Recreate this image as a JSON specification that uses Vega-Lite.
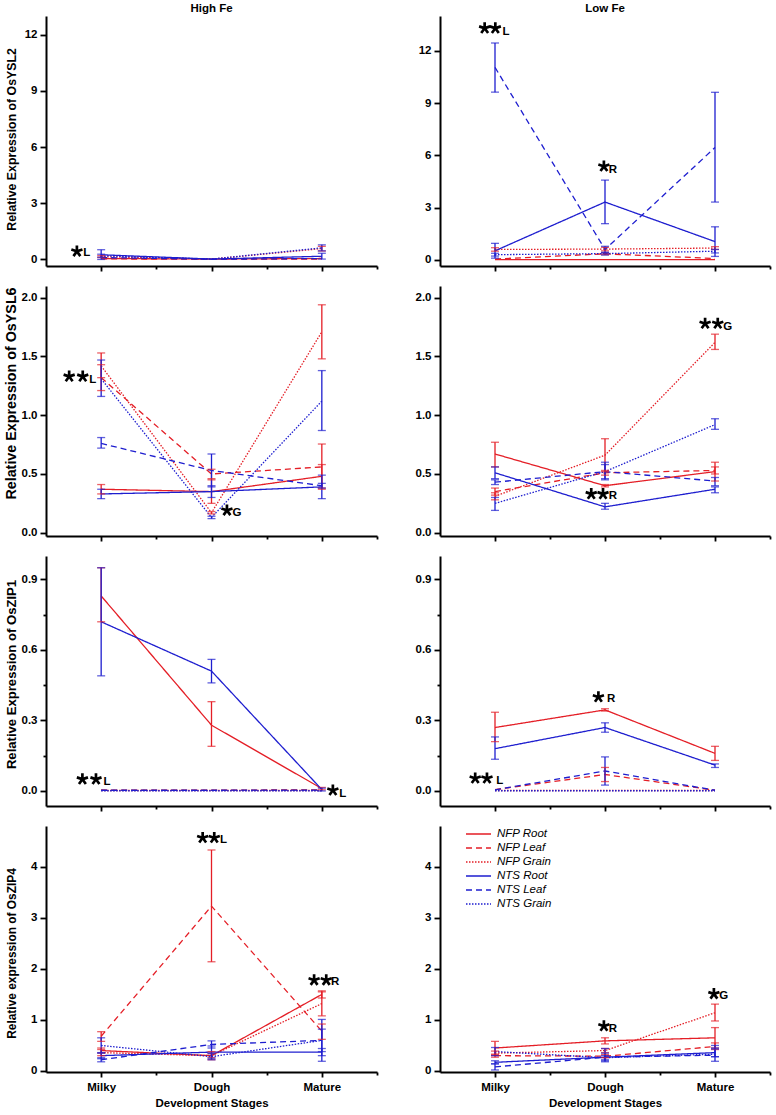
{
"$schema":"https://vega.github.io/schema/vega-lite/v6.json",
"padding":{"left":3,"top":2,"right":4,"bottom":4},
"datasets":{
"pts":[
{"p":"YSL2H","s":"NFP Root","stage":1,"v":0.05,"lo":0.05,"hi":0.05},
{"p":"YSL2H","s":"NFP Root","stage":2,"v":0.02,"lo":0.02,"hi":0.02},
{"p":"YSL2H","s":"NFP Root","stage":3,"v":0.05,"lo":0.05,"hi":0.05},
{"p":"YSL2H","s":"NFP Leaf","stage":1,"v":0.03,"lo":0.03,"hi":0.03},
{"p":"YSL2H","s":"NFP Leaf","stage":2,"v":0.01,"lo":0.01,"hi":0.01},
{"p":"YSL2H","s":"NFP Leaf","stage":3,"v":0.02,"lo":0.02,"hi":0.02},
{"p":"YSL2H","s":"NFP Grain","stage":1,"v":0.15,"lo":0.1,"hi":0.2},
{"p":"YSL2H","s":"NFP Grain","stage":2,"v":0.02,"lo":0.02,"hi":0.02},
{"p":"YSL2H","s":"NFP Grain","stage":3,"v":0.58,"lo":0.45,"hi":0.7},
{"p":"YSL2H","s":"NTS Root","stage":1,"v":0.25,"lo":0.0,"hi":0.52},
{"p":"YSL2H","s":"NTS Root","stage":2,"v":0.02,"lo":0.02,"hi":0.02},
{"p":"YSL2H","s":"NTS Root","stage":3,"v":0.17,"lo":0.02,"hi":0.33},
{"p":"YSL2H","s":"NTS Leaf","stage":1,"v":0.1,"lo":0.1,"hi":0.1},
{"p":"YSL2H","s":"NTS Leaf","stage":2,"v":0.01,"lo":0.01,"hi":0.01},
{"p":"YSL2H","s":"NTS Leaf","stage":3,"v":0.05,"lo":0.05,"hi":0.05},
{"p":"YSL2H","s":"NTS Grain","stage":1,"v":0.2,"lo":0.12,"hi":0.28},
{"p":"YSL2H","s":"NTS Grain","stage":2,"v":0.02,"lo":0.02,"hi":0.02},
{"p":"YSL2H","s":"NTS Grain","stage":3,"v":0.62,"lo":0.46,"hi":0.78},

{"p":"YSL2L","s":"NFP Root","stage":1,"v":0.02,"lo":0.02,"hi":0.02},
{"p":"YSL2L","s":"NFP Root","stage":2,"v":0.02,"lo":0.02,"hi":0.02},
{"p":"YSL2L","s":"NFP Root","stage":3,"v":0.02,"lo":0.02,"hi":0.02},
{"p":"YSL2L","s":"NFP Leaf","stage":1,"v":0.05,"lo":0.05,"hi":0.05},
{"p":"YSL2L","s":"NFP Leaf","stage":2,"v":0.35,"lo":0.3,"hi":0.4},
{"p":"YSL2L","s":"NFP Leaf","stage":3,"v":0.08,"lo":0.08,"hi":0.08},
{"p":"YSL2L","s":"NFP Grain","stage":1,"v":0.6,"lo":0.5,"hi":0.7},
{"p":"YSL2L","s":"NFP Grain","stage":2,"v":0.62,"lo":0.52,"hi":0.72},
{"p":"YSL2L","s":"NFP Grain","stage":3,"v":0.68,"lo":0.6,"hi":0.76},
{"p":"YSL2L","s":"NTS Root","stage":1,"v":0.52,"lo":0.1,"hi":0.95},
{"p":"YSL2L","s":"NTS Root","stage":2,"v":3.32,"lo":2.08,"hi":4.58},
{"p":"YSL2L","s":"NTS Root","stage":3,"v":1.05,"lo":0.2,"hi":1.9},
{"p":"YSL2L","s":"NTS Leaf","stage":1,"v":11.05,"lo":9.63,"hi":12.45},
{"p":"YSL2L","s":"NTS Leaf","stage":2,"v":0.6,"lo":0.4,"hi":0.78},
{"p":"YSL2L","s":"NTS Leaf","stage":3,"v":6.45,"lo":3.32,"hi":9.62},
{"p":"YSL2L","s":"NTS Grain","stage":1,"v":0.3,"lo":0.22,"hi":0.38},
{"p":"YSL2L","s":"NTS Grain","stage":2,"v":0.36,"lo":0.28,"hi":0.44},
{"p":"YSL2L","s":"NTS Grain","stage":3,"v":0.5,"lo":0.4,"hi":0.6},

{"p":"YSL6H","s":"NFP Root","stage":1,"v":0.37,"lo":0.33,"hi":0.41},
{"p":"YSL6H","s":"NFP Root","stage":2,"v":0.35,"lo":0.25,"hi":0.45},
{"p":"YSL6H","s":"NFP Root","stage":3,"v":0.48,"lo":0.38,"hi":0.58},
{"p":"YSL6H","s":"NFP Leaf","stage":1,"v":1.32,"lo":1.21,"hi":1.43},
{"p":"YSL6H","s":"NFP Leaf","stage":2,"v":0.5,"lo":0.46,"hi":0.54},
{"p":"YSL6H","s":"NFP Leaf","stage":3,"v":0.56,"lo":0.37,"hi":0.755},
{"p":"YSL6H","s":"NFP Grain","stage":1,"v":1.42,"lo":1.32,"hi":1.53},
{"p":"YSL6H","s":"NFP Grain","stage":2,"v":0.17,"lo":0.16,"hi":0.18},
{"p":"YSL6H","s":"NFP Grain","stage":3,"v":1.71,"lo":1.48,"hi":1.94},
{"p":"YSL6H","s":"NTS Root","stage":1,"v":0.33,"lo":0.29,"hi":0.37},
{"p":"YSL6H","s":"NTS Root","stage":2,"v":0.35,"lo":0.3,"hi":0.4},
{"p":"YSL6H","s":"NTS Root","stage":3,"v":0.39,"lo":0.29,"hi":0.49},
{"p":"YSL6H","s":"NTS Leaf","stage":1,"v":0.76,"lo":0.72,"hi":0.81},
{"p":"YSL6H","s":"NTS Leaf","stage":2,"v":0.53,"lo":0.39,"hi":0.67},
{"p":"YSL6H","s":"NTS Leaf","stage":3,"v":0.4,"lo":0.38,"hi":0.42},
{"p":"YSL6H","s":"NTS Grain","stage":1,"v":1.31,"lo":1.16,"hi":1.47},
{"p":"YSL6H","s":"NTS Grain","stage":2,"v":0.13,"lo":0.12,"hi":0.14},
{"p":"YSL6H","s":"NTS Grain","stage":3,"v":1.12,"lo":0.87,"hi":1.38},

{"p":"YSL6L","s":"NFP Root","stage":1,"v":0.67,"lo":0.56,"hi":0.77},
{"p":"YSL6L","s":"NFP Root","stage":2,"v":0.4,"lo":0.39,"hi":0.41},
{"p":"YSL6L","s":"NFP Root","stage":3,"v":0.52,"lo":0.44,"hi":0.6},
{"p":"YSL6L","s":"NFP Leaf","stage":1,"v":0.35,"lo":0.32,"hi":0.38},
{"p":"YSL6L","s":"NFP Leaf","stage":2,"v":0.51,"lo":0.49,"hi":0.53},
{"p":"YSL6L","s":"NFP Leaf","stage":3,"v":0.53,"lo":0.5,"hi":0.56},
{"p":"YSL6L","s":"NFP Grain","stage":1,"v":0.31,"lo":0.28,"hi":0.34},
{"p":"YSL6L","s":"NFP Grain","stage":2,"v":0.66,"lo":0.52,"hi":0.8},
{"p":"YSL6L","s":"NFP Grain","stage":3,"v":1.62,"lo":1.56,"hi":1.69},
{"p":"YSL6L","s":"NTS Root","stage":1,"v":0.51,"lo":0.46,"hi":0.56},
{"p":"YSL6L","s":"NTS Root","stage":2,"v":0.22,"lo":0.2,"hi":0.25},
{"p":"YSL6L","s":"NTS Root","stage":3,"v":0.37,"lo":0.34,"hi":0.39},
{"p":"YSL6L","s":"NTS Leaf","stage":1,"v":0.43,"lo":0.41,"hi":0.45},
{"p":"YSL6L","s":"NTS Leaf","stage":2,"v":0.52,"lo":0.46,"hi":0.58},
{"p":"YSL6L","s":"NTS Leaf","stage":3,"v":0.44,"lo":0.4,"hi":0.47},
{"p":"YSL6L","s":"NTS Grain","stage":1,"v":0.25,"lo":0.19,"hi":0.3},
{"p":"YSL6L","s":"NTS Grain","stage":2,"v":0.52,"lo":0.45,"hi":0.6},
{"p":"YSL6L","s":"NTS Grain","stage":3,"v":0.92,"lo":0.88,"hi":0.97},

{"p":"ZIP1H","s":"NFP Root","stage":1,"v":0.83,"lo":0.72,"hi":0.95},
{"p":"ZIP1H","s":"NFP Root","stage":2,"v":0.28,"lo":0.19,"hi":0.38},
{"p":"ZIP1H","s":"NFP Root","stage":3,"v":0.01,"lo":0.005,"hi":0.015},
{"p":"ZIP1H","s":"NFP Leaf","stage":1,"v":0.004,"lo":0.004,"hi":0.004},
{"p":"ZIP1H","s":"NFP Leaf","stage":2,"v":0.003,"lo":0.003,"hi":0.003},
{"p":"ZIP1H","s":"NFP Leaf","stage":3,"v":0.005,"lo":0.005,"hi":0.005},
{"p":"ZIP1H","s":"NFP Grain","stage":1,"v":0.002,"lo":0.002,"hi":0.002},
{"p":"ZIP1H","s":"NFP Grain","stage":2,"v":0.002,"lo":0.002,"hi":0.002},
{"p":"ZIP1H","s":"NFP Grain","stage":3,"v":0.002,"lo":0.002,"hi":0.002},
{"p":"ZIP1H","s":"NTS Root","stage":1,"v":0.72,"lo":0.49,"hi":0.95},
{"p":"ZIP1H","s":"NTS Root","stage":2,"v":0.51,"lo":0.46,"hi":0.56},
{"p":"ZIP1H","s":"NTS Root","stage":3,"v":0.006,"lo":0.0,"hi":0.012},
{"p":"ZIP1H","s":"NTS Leaf","stage":1,"v":0.003,"lo":0.003,"hi":0.003},
{"p":"ZIP1H","s":"NTS Leaf","stage":2,"v":0.003,"lo":0.003,"hi":0.003},
{"p":"ZIP1H","s":"NTS Leaf","stage":3,"v":0.004,"lo":0.004,"hi":0.004},
{"p":"ZIP1H","s":"NTS Grain","stage":1,"v":0.001,"lo":0.001,"hi":0.001},
{"p":"ZIP1H","s":"NTS Grain","stage":2,"v":0.001,"lo":0.001,"hi":0.001},
{"p":"ZIP1H","s":"NTS Grain","stage":3,"v":0.001,"lo":0.001,"hi":0.001},

{"p":"ZIP1L","s":"NFP Root","stage":1,"v":0.27,"lo":0.21,"hi":0.335},
{"p":"ZIP1L","s":"NFP Root","stage":2,"v":0.345,"lo":0.34,"hi":0.35},
{"p":"ZIP1L","s":"NFP Root","stage":3,"v":0.16,"lo":0.13,"hi":0.19},
{"p":"ZIP1L","s":"NFP Leaf","stage":1,"v":0.006,"lo":0.006,"hi":0.006},
{"p":"ZIP1L","s":"NFP Leaf","stage":2,"v":0.07,"lo":0.04,"hi":0.1},
{"p":"ZIP1L","s":"NFP Leaf","stage":3,"v":0.003,"lo":0.003,"hi":0.003},
{"p":"ZIP1L","s":"NFP Grain","stage":1,"v":0.002,"lo":0.002,"hi":0.002},
{"p":"ZIP1L","s":"NFP Grain","stage":2,"v":0.002,"lo":0.002,"hi":0.002},
{"p":"ZIP1L","s":"NFP Grain","stage":3,"v":0.002,"lo":0.002,"hi":0.002},
{"p":"ZIP1L","s":"NTS Root","stage":1,"v":0.18,"lo":0.135,"hi":0.23},
{"p":"ZIP1L","s":"NTS Root","stage":2,"v":0.27,"lo":0.25,"hi":0.29},
{"p":"ZIP1L","s":"NTS Root","stage":3,"v":0.11,"lo":0.1,"hi":0.115},
{"p":"ZIP1L","s":"NTS Leaf","stage":1,"v":0.005,"lo":0.005,"hi":0.005},
{"p":"ZIP1L","s":"NTS Leaf","stage":2,"v":0.085,"lo":0.025,"hi":0.145},
{"p":"ZIP1L","s":"NTS Leaf","stage":3,"v":0.003,"lo":0.003,"hi":0.003},
{"p":"ZIP1L","s":"NTS Grain","stage":1,"v":0.001,"lo":0.001,"hi":0.001},
{"p":"ZIP1L","s":"NTS Grain","stage":2,"v":0.001,"lo":0.001,"hi":0.001},
{"p":"ZIP1L","s":"NTS Grain","stage":3,"v":0.001,"lo":0.001,"hi":0.001},

{"p":"ZIP4H","s":"NFP Root","stage":1,"v":0.4,"lo":0.35,"hi":0.45},
{"p":"ZIP4H","s":"NFP Root","stage":2,"v":0.3,"lo":0.22,"hi":0.38},
{"p":"ZIP4H","s":"NFP Root","stage":3,"v":1.5,"lo":1.43,"hi":1.57},
{"p":"ZIP4H","s":"NFP Leaf","stage":1,"v":0.68,"lo":0.58,"hi":0.77},
{"p":"ZIP4H","s":"NFP Leaf","stage":2,"v":3.23,"lo":2.14,"hi":4.33},
{"p":"ZIP4H","s":"NFP Leaf","stage":3,"v":0.78,"lo":0.62,"hi":0.92},
{"p":"ZIP4H","s":"NFP Grain","stage":1,"v":0.36,"lo":0.3,"hi":0.42},
{"p":"ZIP4H","s":"NFP Grain","stage":2,"v":0.3,"lo":0.26,"hi":0.34},
{"p":"ZIP4H","s":"NFP Grain","stage":3,"v":1.32,"lo":1.08,"hi":1.55},
{"p":"ZIP4H","s":"NTS Root","stage":1,"v":0.3,"lo":0.24,"hi":0.36},
{"p":"ZIP4H","s":"NTS Root","stage":2,"v":0.37,"lo":0.25,"hi":0.49},
{"p":"ZIP4H","s":"NTS Root","stage":3,"v":0.37,"lo":0.3,"hi":0.44},
{"p":"ZIP4H","s":"NTS Leaf","stage":1,"v":0.22,"lo":0.18,"hi":0.26},
{"p":"ZIP4H","s":"NTS Leaf","stage":2,"v":0.52,"lo":0.45,"hi":0.59},
{"p":"ZIP4H","s":"NTS Leaf","stage":3,"v":0.6,"lo":0.38,"hi":0.82},
{"p":"ZIP4H","s":"NTS Grain","stage":1,"v":0.5,"lo":0.35,"hi":0.65},
{"p":"ZIP4H","s":"NTS Grain","stage":2,"v":0.28,"lo":0.22,"hi":0.34},
{"p":"ZIP4H","s":"NTS Grain","stage":3,"v":0.6,"lo":0.19,"hi":1.01},

{"p":"ZIP4L","s":"NFP Root","stage":1,"v":0.45,"lo":0.31,"hi":0.58},
{"p":"ZIP4L","s":"NFP Root","stage":2,"v":0.59,"lo":0.53,"hi":0.65},
{"p":"ZIP4L","s":"NFP Root","stage":3,"v":0.65,"lo":0.45,"hi":0.85},
{"p":"ZIP4L","s":"NFP Leaf","stage":1,"v":0.3,"lo":0.27,"hi":0.33},
{"p":"ZIP4L","s":"NFP Leaf","stage":2,"v":0.29,"lo":0.26,"hi":0.32},
{"p":"ZIP4L","s":"NFP Leaf","stage":3,"v":0.48,"lo":0.42,"hi":0.55},
{"p":"ZIP4L","s":"NFP Grain","stage":1,"v":0.35,"lo":0.31,"hi":0.39},
{"p":"ZIP4L","s":"NFP Grain","stage":2,"v":0.4,"lo":0.36,"hi":0.44},
{"p":"ZIP4L","s":"NFP Grain","stage":3,"v":1.14,"lo":0.98,"hi":1.31},
{"p":"ZIP4L","s":"NTS Root","stage":1,"v":0.17,"lo":0.14,"hi":0.2},
{"p":"ZIP4L","s":"NTS Root","stage":2,"v":0.27,"lo":0.2,"hi":0.35},
{"p":"ZIP4L","s":"NTS Root","stage":3,"v":0.36,"lo":0.28,"hi":0.5},
{"p":"ZIP4L","s":"NTS Leaf","stage":1,"v":0.08,"lo":0.02,"hi":0.14},
{"p":"ZIP4L","s":"NTS Leaf","stage":2,"v":0.27,"lo":0.18,"hi":0.44},
{"p":"ZIP4L","s":"NTS Leaf","stage":3,"v":0.31,"lo":0.19,"hi":0.43},
{"p":"ZIP4L","s":"NTS Grain","stage":1,"v":0.38,"lo":0.3,"hi":0.46},
{"p":"ZIP4L","s":"NTS Grain","stage":2,"v":0.26,"lo":0.22,"hi":0.3},
{"p":"ZIP4L","s":"NTS Grain","stage":3,"v":0.33,"lo":0.28,"hi":0.45}
],
"stars":[
{"p":"YSL2H","x":0.78,"y":0.43},
{"p":"YSL2L","x":0.906,"y":13.3},{"p":"YSL2L","x":1.003,"y":13.3},{"p":"YSL2L","x":1.99,"y":5.37},
{"p":"YSL6H","x":0.71,"y":1.33},{"p":"YSL6H","x":0.833,"y":1.33},{"p":"YSL6H","x":2.14,"y":0.19},
{"p":"YSL6L","x":2.91,"y":1.78},{"p":"YSL6L","x":3.025,"y":1.78},{"p":"YSL6L","x":1.875,"y":0.33},{"p":"YSL6L","x":1.982,"y":0.33},
{"p":"ZIP1H","x":0.83,"y":0.05},{"p":"ZIP1H","x":0.953,"y":0.05},{"p":"ZIP1H","x":3.1,"y":0.003},
{"p":"ZIP1L","x":0.82,"y":0.054},{"p":"ZIP1L","x":0.927,"y":0.054},{"p":"ZIP1L","x":1.94,"y":0.4},
{"p":"ZIP4H","x":1.92,"y":4.57},{"p":"ZIP4H","x":2.025,"y":4.57},{"p":"ZIP4H","x":2.93,"y":1.78},{"p":"ZIP4H","x":3.04,"y":1.78},
{"p":"ZIP4L","x":1.99,"y":0.88},{"p":"ZIP4L","x":2.99,"y":1.51}
],
"lets":[
{"p":"YSL2H","x":0.87,"y":0.43,"t":"L"},
{"p":"YSL2L","x":1.1,"y":13.2,"t":"L"},{"p":"YSL2L","x":2.073,"y":5.29,"t":"R"},
{"p":"YSL6H","x":0.923,"y":1.32,"t":"L"},{"p":"YSL6H","x":2.231,"y":0.185,"t":"G"},
{"p":"YSL6L","x":3.115,"y":1.77,"t":"G"},{"p":"YSL6L","x":2.073,"y":0.33,"t":"R"},
{"p":"ZIP1H","x":1.053,"y":0.048,"t":"L"},{"p":"ZIP1H","x":3.19,"y":-0.005,"t":"L"},
{"p":"ZIP1L","x":1.043,"y":0.052,"t":"L"},{"p":"ZIP1L","x":2.055,"y":0.4,"t":"R"},
{"p":"ZIP4H","x":2.11,"y":4.57,"t":"L"},{"p":"ZIP4H","x":3.12,"y":1.78,"t":"R"},
{"p":"ZIP4L","x":2.073,"y":0.87,"t":"R"},{"p":"ZIP4L","x":3.08,"y":1.5,"t":"G"}
]
},
"columns":2,
"spacing":{"row":20,"column":63},
"bounds":"flush",
"resolve":{"legend":{"color":"independent","strokeDash":"independent"}},
"concat":[
{"width":331,"height":250,"title":{"text":"High Fe"},
 "layer":[
  {"data":{"name":"pts"},"transform":[{"filter":"datum.p=='YSL2H'"}],"mark":{"type":"line","strokeWidth":1.3},
   "encoding":{
    "x":{"field":"stage","type":"quantitative","scale":{"domain":[0.5,3.5],"nice":false,"zero":false},"axis":{"title":null,"labels":false,"values":[1,1.5,2,2.5,3,3.5],"tickSize":{"condition":{"test":"datum.value%1==0","value":5},"value":3}}},
    "y":{"field":"v","type":"quantitative","scale":{"domain":[-0.35,13],"nice":false,"zero":false},"axis":{"title":"Relative Expression of OsYSL2","titleFontSize":12.3,"titleX":-35,"titleY":123,"titleBaseline":"middle","values":[0,1.5,3,4.5,6,7.5,9,10.5,12],"tickSize":{"condition":{"test":"round(datum.value/1.5)%2==0","value":6},"value":3},"labelExpr":"round(datum.value/1.5)%2==0?format(datum.value,'d'):''","labelPadding":3}},
    "color":{"field":"s","type":"nominal","scale":{"domain":["NFP Root","NFP Leaf","NFP Grain","NTS Root","NTS Leaf","NTS Grain"],"range":["#e41e26","#e41e26","#e41e26","#1e1ecf","#1e1ecf","#1e1ecf"]},"legend":null},
    "strokeDash":{"field":"s","type":"nominal","scale":{"domain":["NFP Root","NFP Leaf","NFP Grain","NTS Root","NTS Leaf","NTS Grain"],"range":[[1,0],[6,4],[1.5,1.5],[1,0],[6,4],[1.5,1.5]]},"legend":null}}},
  {"data":{"name":"pts"},"transform":[{"filter":"datum.p=='YSL2H' && datum.hi>datum.lo"}],"mark":{"type":"rule","strokeWidth":1.3},
   "encoding":{"x":{"field":"stage","type":"quantitative"},"y":{"field":"lo","type":"quantitative"},"y2":{"field":"hi"},"color":{"field":"s","type":"nominal","legend":null}}},
  {"data":{"name":"pts"},"transform":[{"filter":"datum.p=='YSL2H' && datum.hi>datum.lo"},{"fold":["lo","hi"],"as":["k","e"]}],"mark":{"type":"tick","orient":"horizontal","size":8,"thickness":1.3},
   "encoding":{"x":{"field":"stage","type":"quantitative"},"y":{"field":"e","type":"quantitative"},"color":{"field":"s","type":"nominal","legend":null}}},
  {"data":{"name":"stars"},"transform":[{"filter":"datum.p=='YSL2H'"}],"mark":{"type":"point","shape":"M-0.225,-0.974L0.225,-0.974L0.223,-0.307L0.857,-0.515L0.996,-0.087L0.361,0.117L0.755,0.656L0.391,0.921L0,0.38L-0.391,0.921L-0.755,0.656L-0.361,0.117L-0.996,-0.087L-0.857,-0.515L-0.223,-0.307Z","filled":true,"color":"#000","size":144,"opacity":1},
   "encoding":{"x":{"field":"x","type":"quantitative"},"y":{"field":"y","type":"quantitative"}}},
  {"data":{"name":"lets"},"transform":[{"filter":"datum.p=='YSL2H'"}],"mark":{"type":"text","fontWeight":"bold","fontSize":11.5,"color":"#000","align":"center","baseline":"middle","dy":2},
   "encoding":{"x":{"field":"x","type":"quantitative"},"y":{"field":"y","type":"quantitative"},"text":{"field":"t"}}}
 ]},
{"width":330,"height":250,"title":{"text":"Low Fe"},
 "layer":[
  {"data":{"name":"pts"},"transform":[{"filter":"datum.p=='YSL2L'"}],"mark":{"type":"line","strokeWidth":1.3},
   "encoding":{
    "x":{"field":"stage","type":"quantitative","scale":{"domain":[0.5,3.5],"nice":false,"zero":false},"axis":{"title":null,"labels":false,"values":[1,1.5,2,2.5,3,3.5],"tickSize":{"condition":{"test":"datum.value%1==0","value":5},"value":3}}},
    "y":{"field":"v","type":"quantitative","scale":{"domain":[-0.35,14],"nice":false,"zero":false},"axis":{"title":null,"values":[0,1.5,3,4.5,6,7.5,9,10.5,12,13.5],"tickSize":{"condition":{"test":"round(datum.value/1.5)%2==0","value":6},"value":3},"labelExpr":"round(datum.value/1.5)%2==0?format(datum.value,'d'):''","labelPadding":3}},
    "color":{"field":"s","type":"nominal","scale":{"domain":["NFP Root","NFP Leaf","NFP Grain","NTS Root","NTS Leaf","NTS Grain"],"range":["#e41e26","#e41e26","#e41e26","#1e1ecf","#1e1ecf","#1e1ecf"]},"legend":null},
    "strokeDash":{"field":"s","type":"nominal","scale":{"domain":["NFP Root","NFP Leaf","NFP Grain","NTS Root","NTS Leaf","NTS Grain"],"range":[[1,0],[6,4],[1.5,1.5],[1,0],[6,4],[1.5,1.5]]},"legend":null}}},
  {"data":{"name":"pts"},"transform":[{"filter":"datum.p=='YSL2L' && datum.hi>datum.lo"}],"mark":{"type":"rule","strokeWidth":1.3},
   "encoding":{"x":{"field":"stage","type":"quantitative"},"y":{"field":"lo","type":"quantitative"},"y2":{"field":"hi"},"color":{"field":"s","type":"nominal","legend":null}}},
  {"data":{"name":"pts"},"transform":[{"filter":"datum.p=='YSL2L' && datum.hi>datum.lo"},{"fold":["lo","hi"],"as":["k","e"]}],"mark":{"type":"tick","orient":"horizontal","size":8,"thickness":1.3},
   "encoding":{"x":{"field":"stage","type":"quantitative"},"y":{"field":"e","type":"quantitative"},"color":{"field":"s","type":"nominal","legend":null}}},
  {"data":{"name":"stars"},"transform":[{"filter":"datum.p=='YSL2L'"}],"mark":{"type":"point","shape":"M-0.225,-0.974L0.225,-0.974L0.223,-0.307L0.857,-0.515L0.996,-0.087L0.361,0.117L0.755,0.656L0.391,0.921L0,0.38L-0.391,0.921L-0.755,0.656L-0.361,0.117L-0.996,-0.087L-0.857,-0.515L-0.223,-0.307Z","filled":true,"color":"#000","size":144,"opacity":1},
   "encoding":{"x":{"field":"x","type":"quantitative"},"y":{"field":"y","type":"quantitative"}}},
  {"data":{"name":"lets"},"transform":[{"filter":"datum.p=='YSL2L'"}],"mark":{"type":"text","fontWeight":"bold","fontSize":11.5,"color":"#000","align":"center","baseline":"middle","dy":2},
   "encoding":{"x":{"field":"x","type":"quantitative"},"y":{"field":"y","type":"quantitative"},"text":{"field":"t"}}}
 ]},
{"width":331,"height":250,
 "layer":[
  {"data":{"name":"pts"},"transform":[{"filter":"datum.p=='YSL6H'"}],"mark":{"type":"line","strokeWidth":1.3},
   "encoding":{
    "x":{"field":"stage","type":"quantitative","scale":{"domain":[0.5,3.5],"nice":false,"zero":false},"axis":{"title":null,"labels":false,"values":[1,1.5,2,2.5,3,3.5],"tickSize":{"condition":{"test":"datum.value%1==0","value":5},"value":3}}},
    "y":{"field":"v","type":"quantitative","scale":{"domain":[-0.028,2.1],"nice":false,"zero":false},"axis":{"title":"Relative Expression of OsYSL6","titleFontSize":14.3,"titleX":-35,"titleY":107,"titleBaseline":"middle","values":[0,0.25,0.5,0.75,1,1.25,1.5,1.75,2],"tickSize":{"condition":{"test":"round(datum.value/0.25)%2==0","value":6},"value":3},"labelExpr":"round(datum.value/0.25)%2==0?format(datum.value,'.1f'):''","labelPadding":3}},
    "color":{"field":"s","type":"nominal","scale":{"domain":["NFP Root","NFP Leaf","NFP Grain","NTS Root","NTS Leaf","NTS Grain"],"range":["#e41e26","#e41e26","#e41e26","#1e1ecf","#1e1ecf","#1e1ecf"]},"legend":null},
    "strokeDash":{"field":"s","type":"nominal","scale":{"domain":["NFP Root","NFP Leaf","NFP Grain","NTS Root","NTS Leaf","NTS Grain"],"range":[[1,0],[6,4],[1.5,1.5],[1,0],[6,4],[1.5,1.5]]},"legend":null}}},
  {"data":{"name":"pts"},"transform":[{"filter":"datum.p=='YSL6H' && datum.hi>datum.lo"}],"mark":{"type":"rule","strokeWidth":1.3},
   "encoding":{"x":{"field":"stage","type":"quantitative"},"y":{"field":"lo","type":"quantitative"},"y2":{"field":"hi"},"color":{"field":"s","type":"nominal","legend":null}}},
  {"data":{"name":"pts"},"transform":[{"filter":"datum.p=='YSL6H' && datum.hi>datum.lo"},{"fold":["lo","hi"],"as":["k","e"]}],"mark":{"type":"tick","orient":"horizontal","size":8,"thickness":1.3},
   "encoding":{"x":{"field":"stage","type":"quantitative"},"y":{"field":"e","type":"quantitative"},"color":{"field":"s","type":"nominal","legend":null}}},
  {"data":{"name":"stars"},"transform":[{"filter":"datum.p=='YSL6H'"}],"mark":{"type":"point","shape":"M-0.225,-0.974L0.225,-0.974L0.223,-0.307L0.857,-0.515L0.996,-0.087L0.361,0.117L0.755,0.656L0.391,0.921L0,0.38L-0.391,0.921L-0.755,0.656L-0.361,0.117L-0.996,-0.087L-0.857,-0.515L-0.223,-0.307Z","filled":true,"color":"#000","size":144,"opacity":1},
   "encoding":{"x":{"field":"x","type":"quantitative"},"y":{"field":"y","type":"quantitative"}}},
  {"data":{"name":"lets"},"transform":[{"filter":"datum.p=='YSL6H'"}],"mark":{"type":"text","fontWeight":"bold","fontSize":11.5,"color":"#000","align":"center","baseline":"middle","dy":2},
   "encoding":{"x":{"field":"x","type":"quantitative"},"y":{"field":"y","type":"quantitative"},"text":{"field":"t"}}}
 ]},
{"width":330,"height":250,
 "layer":[
  {"data":{"name":"pts"},"transform":[{"filter":"datum.p=='YSL6L'"}],"mark":{"type":"line","strokeWidth":1.3},
   "encoding":{
    "x":{"field":"stage","type":"quantitative","scale":{"domain":[0.5,3.5],"nice":false,"zero":false},"axis":{"title":null,"labels":false,"values":[1,1.5,2,2.5,3,3.5],"tickSize":{"condition":{"test":"datum.value%1==0","value":5},"value":3}}},
    "y":{"field":"v","type":"quantitative","scale":{"domain":[-0.028,2.1],"nice":false,"zero":false},"axis":{"title":null,"values":[0,0.25,0.5,0.75,1,1.25,1.5,1.75,2],"tickSize":{"condition":{"test":"round(datum.value/0.25)%2==0","value":6},"value":3},"labelExpr":"round(datum.value/0.25)%2==0?format(datum.value,'.1f'):''","labelPadding":3}},
    "color":{"field":"s","type":"nominal","scale":{"domain":["NFP Root","NFP Leaf","NFP Grain","NTS Root","NTS Leaf","NTS Grain"],"range":["#e41e26","#e41e26","#e41e26","#1e1ecf","#1e1ecf","#1e1ecf"]},"legend":null},
    "strokeDash":{"field":"s","type":"nominal","scale":{"domain":["NFP Root","NFP Leaf","NFP Grain","NTS Root","NTS Leaf","NTS Grain"],"range":[[1,0],[6,4],[1.5,1.5],[1,0],[6,4],[1.5,1.5]]},"legend":null}}},
  {"data":{"name":"pts"},"transform":[{"filter":"datum.p=='YSL6L' && datum.hi>datum.lo"}],"mark":{"type":"rule","strokeWidth":1.3},
   "encoding":{"x":{"field":"stage","type":"quantitative"},"y":{"field":"lo","type":"quantitative"},"y2":{"field":"hi"},"color":{"field":"s","type":"nominal","legend":null}}},
  {"data":{"name":"pts"},"transform":[{"filter":"datum.p=='YSL6L' && datum.hi>datum.lo"},{"fold":["lo","hi"],"as":["k","e"]}],"mark":{"type":"tick","orient":"horizontal","size":8,"thickness":1.3},
   "encoding":{"x":{"field":"stage","type":"quantitative"},"y":{"field":"e","type":"quantitative"},"color":{"field":"s","type":"nominal","legend":null}}},
  {"data":{"name":"stars"},"transform":[{"filter":"datum.p=='YSL6L'"}],"mark":{"type":"point","shape":"M-0.225,-0.974L0.225,-0.974L0.223,-0.307L0.857,-0.515L0.996,-0.087L0.361,0.117L0.755,0.656L0.391,0.921L0,0.38L-0.391,0.921L-0.755,0.656L-0.361,0.117L-0.996,-0.087L-0.857,-0.515L-0.223,-0.307Z","filled":true,"color":"#000","size":144,"opacity":1},
   "encoding":{"x":{"field":"x","type":"quantitative"},"y":{"field":"y","type":"quantitative"}}},
  {"data":{"name":"lets"},"transform":[{"filter":"datum.p=='YSL6L'"}],"mark":{"type":"text","fontWeight":"bold","fontSize":11.5,"color":"#000","align":"center","baseline":"middle","dy":2},
   "encoding":{"x":{"field":"x","type":"quantitative"},"y":{"field":"y","type":"quantitative"},"text":{"field":"t"}}}
 ]},
{"width":331,"height":250,
 "layer":[
  {"data":{"name":"pts"},"transform":[{"filter":"datum.p=='ZIP1H'"}],"mark":{"type":"line","strokeWidth":1.3},
   "encoding":{
    "x":{"field":"stage","type":"quantitative","scale":{"domain":[0.5,3.5],"nice":false,"zero":false},"axis":{"title":null,"labels":false,"values":[1,1.5,2,2.5,3,3.5],"tickSize":{"condition":{"test":"datum.value%1==0","value":5},"value":3}}},
    "y":{"field":"v","type":"quantitative","scale":{"domain":[-0.064,1.0],"nice":false,"zero":false},"axis":{"title":"Relative Expression of OsZIP1","titleFontSize":13.1,"titleX":-35,"titleY":118,"titleBaseline":"middle","values":[0,0.15,0.3,0.45,0.6,0.75,0.9],"tickSize":{"condition":{"test":"round(datum.value/0.15)%2==0","value":6},"value":3},"labelExpr":"round(datum.value/0.15)%2==0?format(datum.value,'.1f'):''","labelPadding":3}},
    "color":{"field":"s","type":"nominal","scale":{"domain":["NFP Root","NFP Leaf","NFP Grain","NTS Root","NTS Leaf","NTS Grain"],"range":["#e41e26","#e41e26","#e41e26","#1e1ecf","#1e1ecf","#1e1ecf"]},"legend":null},
    "strokeDash":{"field":"s","type":"nominal","scale":{"domain":["NFP Root","NFP Leaf","NFP Grain","NTS Root","NTS Leaf","NTS Grain"],"range":[[1,0],[6,4],[1.5,1.5],[1,0],[6,4],[1.5,1.5]]},"legend":null}}},
  {"data":{"name":"pts"},"transform":[{"filter":"datum.p=='ZIP1H' && datum.hi>datum.lo"}],"mark":{"type":"rule","strokeWidth":1.3},
   "encoding":{"x":{"field":"stage","type":"quantitative"},"y":{"field":"lo","type":"quantitative"},"y2":{"field":"hi"},"color":{"field":"s","type":"nominal","legend":null}}},
  {"data":{"name":"pts"},"transform":[{"filter":"datum.p=='ZIP1H' && datum.hi>datum.lo"},{"fold":["lo","hi"],"as":["k","e"]}],"mark":{"type":"tick","orient":"horizontal","size":8,"thickness":1.3},
   "encoding":{"x":{"field":"stage","type":"quantitative"},"y":{"field":"e","type":"quantitative"},"color":{"field":"s","type":"nominal","legend":null}}},
  {"data":{"name":"stars"},"transform":[{"filter":"datum.p=='ZIP1H'"}],"mark":{"type":"point","shape":"M-0.225,-0.974L0.225,-0.974L0.223,-0.307L0.857,-0.515L0.996,-0.087L0.361,0.117L0.755,0.656L0.391,0.921L0,0.38L-0.391,0.921L-0.755,0.656L-0.361,0.117L-0.996,-0.087L-0.857,-0.515L-0.223,-0.307Z","filled":true,"color":"#000","size":144,"opacity":1},
   "encoding":{"x":{"field":"x","type":"quantitative"},"y":{"field":"y","type":"quantitative"}}},
  {"data":{"name":"lets"},"transform":[{"filter":"datum.p=='ZIP1H'"}],"mark":{"type":"text","fontWeight":"bold","fontSize":11.5,"color":"#000","align":"center","baseline":"middle","dy":2},
   "encoding":{"x":{"field":"x","type":"quantitative"},"y":{"field":"y","type":"quantitative"},"text":{"field":"t"}}}
 ]},
{"width":330,"height":250,
 "layer":[
  {"data":{"name":"pts"},"transform":[{"filter":"datum.p=='ZIP1L'"}],"mark":{"type":"line","strokeWidth":1.3},
   "encoding":{
    "x":{"field":"stage","type":"quantitative","scale":{"domain":[0.5,3.5],"nice":false,"zero":false},"axis":{"title":null,"labels":false,"values":[1,1.5,2,2.5,3,3.5],"tickSize":{"condition":{"test":"datum.value%1==0","value":5},"value":3}}},
    "y":{"field":"v","type":"quantitative","scale":{"domain":[-0.064,1.0],"nice":false,"zero":false},"axis":{"title":null,"values":[0,0.15,0.3,0.45,0.6,0.75,0.9],"tickSize":{"condition":{"test":"round(datum.value/0.15)%2==0","value":6},"value":3},"labelExpr":"round(datum.value/0.15)%2==0?format(datum.value,'.1f'):''","labelPadding":3}},
    "color":{"field":"s","type":"nominal","scale":{"domain":["NFP Root","NFP Leaf","NFP Grain","NTS Root","NTS Leaf","NTS Grain"],"range":["#e41e26","#e41e26","#e41e26","#1e1ecf","#1e1ecf","#1e1ecf"]},"legend":null},
    "strokeDash":{"field":"s","type":"nominal","scale":{"domain":["NFP Root","NFP Leaf","NFP Grain","NTS Root","NTS Leaf","NTS Grain"],"range":[[1,0],[6,4],[1.5,1.5],[1,0],[6,4],[1.5,1.5]]},"legend":null}}},
  {"data":{"name":"pts"},"transform":[{"filter":"datum.p=='ZIP1L' && datum.hi>datum.lo"}],"mark":{"type":"rule","strokeWidth":1.3},
   "encoding":{"x":{"field":"stage","type":"quantitative"},"y":{"field":"lo","type":"quantitative"},"y2":{"field":"hi"},"color":{"field":"s","type":"nominal","legend":null}}},
  {"data":{"name":"pts"},"transform":[{"filter":"datum.p=='ZIP1L' && datum.hi>datum.lo"},{"fold":["lo","hi"],"as":["k","e"]}],"mark":{"type":"tick","orient":"horizontal","size":8,"thickness":1.3},
   "encoding":{"x":{"field":"stage","type":"quantitative"},"y":{"field":"e","type":"quantitative"},"color":{"field":"s","type":"nominal","legend":null}}},
  {"data":{"name":"stars"},"transform":[{"filter":"datum.p=='ZIP1L'"}],"mark":{"type":"point","shape":"M-0.225,-0.974L0.225,-0.974L0.223,-0.307L0.857,-0.515L0.996,-0.087L0.361,0.117L0.755,0.656L0.391,0.921L0,0.38L-0.391,0.921L-0.755,0.656L-0.361,0.117L-0.996,-0.087L-0.857,-0.515L-0.223,-0.307Z","filled":true,"color":"#000","size":144,"opacity":1},
   "encoding":{"x":{"field":"x","type":"quantitative"},"y":{"field":"y","type":"quantitative"}}},
  {"data":{"name":"lets"},"transform":[{"filter":"datum.p=='ZIP1L'"}],"mark":{"type":"text","fontWeight":"bold","fontSize":11.5,"color":"#000","align":"center","baseline":"middle","dy":2},
   "encoding":{"x":{"field":"x","type":"quantitative"},"y":{"field":"y","type":"quantitative"},"text":{"field":"t"}}}
 ]},
{"width":331,"height":246,
 "layer":[
  {"data":{"name":"pts"},"transform":[{"filter":"datum.p=='ZIP4H'"}],"mark":{"type":"line","strokeWidth":1.3},
   "encoding":{
    "x":{"field":"stage","type":"quantitative","scale":{"domain":[0.5,3.5],"nice":false,"zero":false},"axis":{"title":"Development Stages","titleFontSize":11.5,"labelFontSize":11.5,"labelPadding":4,"titlePadding":5,"values":[1,1.5,2,2.5,3,3.5],"tickSize":{"condition":{"test":"datum.value%1==0","value":5},"value":3},"labelExpr":"datum.value==1?'Milky':datum.value==2?'Dough':datum.value==3?'Mature':''"}},
    "y":{"field":"v","type":"quantitative","scale":{"domain":[-0.02,4.8],"nice":false,"zero":false},"axis":{"title":"Relative expression of OsZIP4","titleFontSize":11.9,"titleX":-35,"titleY":127,"titleBaseline":"middle","values":[0,0.5,1,1.5,2,2.5,3,3.5,4,4.5],"tickSize":{"condition":{"test":"round(datum.value/0.5)%2==0","value":6},"value":3},"labelExpr":"round(datum.value/0.5)%2==0?format(datum.value,'d'):''","labelPadding":3}},
    "color":{"field":"s","type":"nominal","scale":{"domain":["NFP Root","NFP Leaf","NFP Grain","NTS Root","NTS Leaf","NTS Grain"],"range":["#e41e26","#e41e26","#e41e26","#1e1ecf","#1e1ecf","#1e1ecf"]},"legend":null},
    "strokeDash":{"field":"s","type":"nominal","scale":{"domain":["NFP Root","NFP Leaf","NFP Grain","NTS Root","NTS Leaf","NTS Grain"],"range":[[1,0],[6,4],[1.5,1.5],[1,0],[6,4],[1.5,1.5]]},"legend":null}}},
  {"data":{"name":"pts"},"transform":[{"filter":"datum.p=='ZIP4H' && datum.hi>datum.lo"}],"mark":{"type":"rule","strokeWidth":1.3},
   "encoding":{"x":{"field":"stage","type":"quantitative"},"y":{"field":"lo","type":"quantitative"},"y2":{"field":"hi"},"color":{"field":"s","type":"nominal","legend":null}}},
  {"data":{"name":"pts"},"transform":[{"filter":"datum.p=='ZIP4H' && datum.hi>datum.lo"},{"fold":["lo","hi"],"as":["k","e"]}],"mark":{"type":"tick","orient":"horizontal","size":8,"thickness":1.3},
   "encoding":{"x":{"field":"stage","type":"quantitative"},"y":{"field":"e","type":"quantitative"},"color":{"field":"s","type":"nominal","legend":null}}},
  {"data":{"name":"stars"},"transform":[{"filter":"datum.p=='ZIP4H'"}],"mark":{"type":"point","shape":"M-0.225,-0.974L0.225,-0.974L0.223,-0.307L0.857,-0.515L0.996,-0.087L0.361,0.117L0.755,0.656L0.391,0.921L0,0.38L-0.391,0.921L-0.755,0.656L-0.361,0.117L-0.996,-0.087L-0.857,-0.515L-0.223,-0.307Z","filled":true,"color":"#000","size":144,"opacity":1},
   "encoding":{"x":{"field":"x","type":"quantitative"},"y":{"field":"y","type":"quantitative"}}},
  {"data":{"name":"lets"},"transform":[{"filter":"datum.p=='ZIP4H'"}],"mark":{"type":"text","fontWeight":"bold","fontSize":11.5,"color":"#000","align":"center","baseline":"middle","dy":2},
   "encoding":{"x":{"field":"x","type":"quantitative"},"y":{"field":"y","type":"quantitative"},"text":{"field":"t"}}}
 ]},
{"width":330,"height":246,
 "layer":[
  {"data":{"name":"pts"},"transform":[{"filter":"datum.p=='ZIP4L'"}],"mark":{"type":"line","strokeWidth":1.3},
   "encoding":{
    "x":{"field":"stage","type":"quantitative","scale":{"domain":[0.5,3.5],"nice":false,"zero":false},"axis":{"title":"Development Stages","titleFontSize":11.5,"labelFontSize":11.5,"labelPadding":4,"titlePadding":5,"values":[1,1.5,2,2.5,3,3.5],"tickSize":{"condition":{"test":"datum.value%1==0","value":5},"value":3},"labelExpr":"datum.value==1?'Milky':datum.value==2?'Dough':datum.value==3?'Mature':''"}},
    "y":{"field":"v","type":"quantitative","scale":{"domain":[-0.02,4.8],"nice":false,"zero":false},"axis":{"title":null,"values":[0,0.5,1,1.5,2,2.5,3,3.5,4,4.5],"tickSize":{"condition":{"test":"round(datum.value/0.5)%2==0","value":6},"value":3},"labelExpr":"round(datum.value/0.5)%2==0?format(datum.value,'d'):''","labelPadding":3}},
    "color":{"field":"s","type":"nominal","scale":{"domain":["NFP Root","NFP Leaf","NFP Grain","NTS Root","NTS Leaf","NTS Grain"],"range":["#e41e26","#e41e26","#e41e26","#1e1ecf","#1e1ecf","#1e1ecf"]},
      "legend":{"title":null,"orient":"none","legendX":25,"legendY":1,"symbolType":"stroke","symbolSize":625,"symbolStrokeWidth":1.3,"labelFontStyle":"italic","labelFontWeight":"normal","labelFontSize":11.5,"labelColor":"#000","labelOffset":5,"clipHeight":14,"rowPadding":0,"padding":0}},
    "strokeDash":{"field":"s","type":"nominal","scale":{"domain":["NFP Root","NFP Leaf","NFP Grain","NTS Root","NTS Leaf","NTS Grain"],"range":[[1,0],[6,4],[1.5,1.5],[1,0],[6,4],[1.5,1.5]]},
      "legend":{"title":null,"orient":"none","legendX":25,"legendY":1,"symbolType":"stroke","symbolSize":625,"symbolStrokeWidth":1.3,"labelFontStyle":"italic","labelFontWeight":"normal","labelFontSize":11.5,"labelColor":"#000","labelOffset":5,"clipHeight":14,"rowPadding":0,"padding":0}}}},
  {"data":{"name":"pts"},"transform":[{"filter":"datum.p=='ZIP4L' && datum.hi>datum.lo"}],"mark":{"type":"rule","strokeWidth":1.3},
   "encoding":{"x":{"field":"stage","type":"quantitative"},"y":{"field":"lo","type":"quantitative"},"y2":{"field":"hi"},"color":{"field":"s","type":"nominal","legend":null}}},
  {"data":{"name":"pts"},"transform":[{"filter":"datum.p=='ZIP4L' && datum.hi>datum.lo"},{"fold":["lo","hi"],"as":["k","e"]}],"mark":{"type":"tick","orient":"horizontal","size":8,"thickness":1.3},
   "encoding":{"x":{"field":"stage","type":"quantitative"},"y":{"field":"e","type":"quantitative"},"color":{"field":"s","type":"nominal","legend":null}}},
  {"data":{"name":"stars"},"transform":[{"filter":"datum.p=='ZIP4L'"}],"mark":{"type":"point","shape":"M-0.225,-0.974L0.225,-0.974L0.223,-0.307L0.857,-0.515L0.996,-0.087L0.361,0.117L0.755,0.656L0.391,0.921L0,0.38L-0.391,0.921L-0.755,0.656L-0.361,0.117L-0.996,-0.087L-0.857,-0.515L-0.223,-0.307Z","filled":true,"color":"#000","size":144,"opacity":1},
   "encoding":{"x":{"field":"x","type":"quantitative"},"y":{"field":"y","type":"quantitative"}}},
  {"data":{"name":"lets"},"transform":[{"filter":"datum.p=='ZIP4L'"}],"mark":{"type":"text","fontWeight":"bold","fontSize":11.5,"color":"#000","align":"center","baseline":"middle","dy":2},
   "encoding":{"x":{"field":"x","type":"quantitative"},"y":{"field":"y","type":"quantitative"},"text":{"field":"t"}}}
 ]}
],
"config":{
 "view":{"stroke":null},
 "font":"Liberation Sans",
 "background":"#ffffff",
 "axis":{"domainColor":"#000","domainWidth":2,"tickColor":"#000","tickWidth":1.8,"labelColor":"#000","labelFontWeight":"bold","labelFontSize":11.5,"titleColor":"#000","titleFontWeight":"bold","grid":false},
 "title":{"fontSize":11.5,"fontWeight":"bold","offset":2,"color":"#000"}
}
}
